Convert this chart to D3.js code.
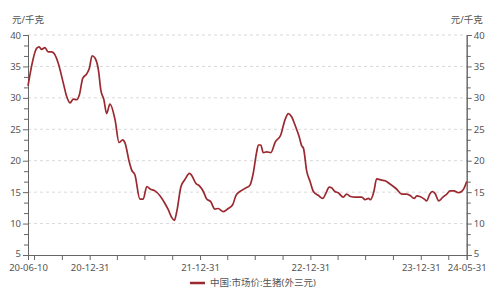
<!DOCTYPE html>
<html lang="zh">
<head>
<meta charset="UTF-8">
<title>生猪价格</title>
<script src="https://cdn.jsdelivr.net/npm/d3@7"></script>
<style>
  body { margin: 0; background: #fff; }
  svg text { font-family: "Noto Sans", "Noto Sans CJK SC", sans-serif; fill: #555; }
</style>
</head>
<body>
<svg></svg>
<script>
// 中国:市场价:生猪(外三元), 元/千克
var dates = [
  '2020-06-10','2020-07-09','2020-07-17','2020-07-25','2020-08-05','2020-08-16','2020-08-27','2020-09-05',
  '2020-09-18','2020-10-05','2020-10-16','2020-10-27','2020-11-07','2020-11-18','2020-11-27','2020-12-08',
  '2020-12-21','2020-12-30','2021-01-08','2021-01-18','2021-01-29','2021-02-06','2021-02-16','2021-02-25',
  '2021-03-08','2021-03-25','2021-04-07','2021-04-19','2021-04-27','2021-05-11','2021-05-19','2021-05-30',
  '2021-06-15','2021-06-26','2021-07-08','2021-07-19','2021-08-04','2021-08-21','2021-09-06','2021-09-17',
  '2021-09-28','2021-10-07','2021-10-15','2021-10-29','2021-11-11','2021-11-26','2021-12-03','2021-12-17',
  '2021-12-29','2022-01-11','2022-01-22','2022-02-04','2022-02-18','2022-03-01','2022-03-18','2022-04-03',
  '2022-04-18','2022-04-29','2022-05-12','2022-05-29','2022-06-14','2022-06-25','2022-07-06','2022-07-12',
  '2022-07-20','2022-07-28','2022-08-09','2022-08-22','2022-09-06','2022-09-24','2022-10-08','2022-10-19',
  '2022-10-30','2022-11-10','2022-11-24','2022-12-02','2022-12-08','2022-12-19','2022-12-30','2023-01-10',
  '2023-01-26','2023-02-10','2023-02-21','2023-03-03','2023-03-11','2023-03-22','2023-04-02','2023-04-19',
  '2023-04-30','2023-05-13','2023-05-28','2023-06-19','2023-06-30','2023-07-11','2023-07-18','2023-07-29',
  '2023-08-07','2023-08-24','2023-09-04','2023-09-20','2023-10-12','2023-10-29','2023-11-14','2023-11-25',
  '2023-12-09','2023-12-18','2023-12-28','2024-01-14','2024-01-19','2024-01-31','2024-02-08','2024-02-16',
  '2024-02-29','2024-03-13','2024-03-26','2024-04-06','2024-04-19','2024-05-03','2024-05-14','2024-05-22',
  '2024-05-31'
];
var prices = [
  31.9, 37.9, 38.1, 37.7, 38.0, 37.3, 37.3, 37.0,
  35.5, 32.3, 30.2, 29.2, 29.8, 29.7, 30.5, 33.1,
  33.8, 34.7, 36.7, 36.3, 34.4, 31.2, 29.7, 27.5,
  29.0, 26.5, 22.9, 23.3, 22.8, 19.8, 18.5, 17.7,
  13.9, 13.9, 15.9, 15.5, 15.2, 14.4, 13.2, 12.2,
  11.0, 10.5, 11.9, 15.9, 17.0, 18.0, 17.7, 16.4,
  16.0, 15.1, 13.9, 13.5, 12.3, 12.4, 11.9, 12.4,
  13.0, 14.5, 15.1, 15.6, 16.1, 18.0, 21.3, 22.5,
  22.5, 21.3, 21.4, 21.3, 23.0, 24.1, 26.5, 27.5,
  27.0, 25.7, 23.8, 22.4, 22.0, 18.3, 16.7, 15.1,
  14.5, 14.0, 14.9, 15.8, 15.7, 15.1, 14.9, 14.2,
  14.7, 14.3, 14.2, 14.2, 13.8, 14.0, 13.8, 15.1,
  17.1, 16.9, 16.8, 16.3, 15.5, 14.7, 14.7, 14.5,
  14.0, 14.4, 14.3, 13.8, 13.6, 14.8, 15.1, 14.8,
  13.6, 14.2, 14.7, 15.2, 15.2, 14.9, 15.1, 15.6,
  16.7
];
var xTicks = ['2020-06-10','2020-06-30','2020-09-30','2020-12-31','2021-03-31','2021-06-30','2021-09-30',
  '2021-12-31','2022-03-31','2022-06-30','2022-09-30','2022-12-31','2023-03-31','2023-06-30','2023-09-30',
  '2023-12-31','2024-03-31','2024-05-31'];
var xLabels = ['2020-06-10','2020-12-31','2021-12-31','2022-12-31','2023-12-31','2024-05-31'];
var yTicks = [5, 10, 15, 20, 25, 30, 35, 40];
var unit = '元/千克';
var seriesName = '中国:市场价:生猪(外三元)';

var W = 500, H = 290;
var margin = {top: 35, left: 28, bottom: 35, right: 33.3};
var width = W - margin.left - margin.right;
var height = H - margin.top - margin.bottom;
var lineColor = '#9b2a30';
var axisColor = '#666';

var parseDate = d3.timeParse('%Y-%m-%d');
var fmt = d3.timeFormat('%y-%m-%d');

var data = dates.map(function (d, i) {
  return {date: parseDate(d), value: prices[i]};
});

var svg = d3.select('svg')
  .attr('width', W)
  .attr('height', H)
  .append('g')
  .attr('transform', 'translate(' + margin.left + ',' + margin.top + ')');

var x = d3.scaleTime()
  .domain([parseDate(dates[0]), parseDate(dates[dates.length - 1])])
  .range([0, width]);

var y = d3.scaleLinear()
  .domain([5, 40])
  .range([height, 0]);

// grid
svg.append('g')
  .selectAll('line')
  .data(yTicks.slice(1))
  .enter()
  .append('line')
  .attr('x1', 0)
  .attr('x2', width)
  .attr('y1', function (d) { return y(d); })
  .attr('y2', function (d) { return y(d); })
  .attr('stroke', '#d9d9d9')
  .attr('stroke-width', 1)
  .attr('stroke-dasharray', '3,3');

// minor y ticks
var minor = d3.range(5, 40.01, 5 / 3).filter(function (v) {
  return Math.abs(v / 5 - Math.round(v / 5)) > 0.01;
});

function styleAxis(g) {
  g.select('.domain').attr('stroke', axisColor);
  g.selectAll('.tick line').attr('stroke', axisColor);
  g.selectAll('.tick text').attr('font-size', 9.5).attr('fill', '#555');
}

svg.append('g')
  .call(d3.axisLeft(y).tickValues(minor).tickSize(4).tickFormat(''))
  .call(styleAxis);
svg.append('g')
  .call(d3.axisLeft(y).tickValues(yTicks).tickSize(5).tickPadding(2))
  .call(styleAxis)
  .selectAll('.tick text')
  .attr('dy', function (d) { return d === 5 ? '0.2em' : '0.32em'; });

svg.append('g')
  .attr('transform', 'translate(' + width + ',0)')
  .call(d3.axisRight(y).tickValues(minor).tickSize(4).tickFormat(''))
  .call(styleAxis);
svg.append('g')
  .attr('transform', 'translate(' + width + ',0)')
  .call(d3.axisRight(y).tickValues(yTicks).tickSize(5).tickPadding(2))
  .call(styleAxis)
  .selectAll('.tick text')
  .attr('dy', function (d) { return d === 5 ? '0.2em' : '0.32em'; });

// x axis
svg.append('g')
  .attr('transform', 'translate(0,' + height + ')')
  .call(d3.axisBottom(x)
    .tickValues(xTicks.map(parseDate))
    .tickSize(5)
    .tickPadding(4)
    .tickFormat(function (d) {
      var s = d3.timeFormat('%Y-%m-%d')(d);
      return xLabels.indexOf(s) >= 0 ? fmt(d) : '';
    }))
  .call(styleAxis);

// unit labels
svg.append('text')
  .attr('x', 0)
  .attr('y', -12)
  .attr('text-anchor', 'middle')
  .attr('font-size', 9.5)
  .text(unit);
svg.append('text')
  .attr('x', width)
  .attr('y', -12)
  .attr('text-anchor', 'middle')
  .attr('font-size', 9.5)
  .text(unit);

// line
var line = d3.line()
  .curve(d3.curveMonotoneX)
  .x(function (d) { return x(d.date); })
  .y(function (d) { return y(d.value); });

svg.append('path')
  .datum(data)
  .attr('fill', 'none')
  .attr('stroke', lineColor)
  .attr('stroke-width', 1.7)
  .attr('stroke-linejoin', 'round')
  .attr('d', line);

// legend
var legend = svg.append('g')
  .attr('transform', 'translate(' + (190 - margin.left) + ',' + (283 - margin.top) + ')');
legend.append('line')
  .attr('x1', 0)
  .attr('x2', 15)
  .attr('stroke', lineColor)
  .attr('stroke-width', 2.5);
legend.append('text')
  .attr('x', 20)
  .attr('dy', '0.35em')
  .attr('font-size', 9.5)
  .text(seriesName);
</script>
</body>
</html>
